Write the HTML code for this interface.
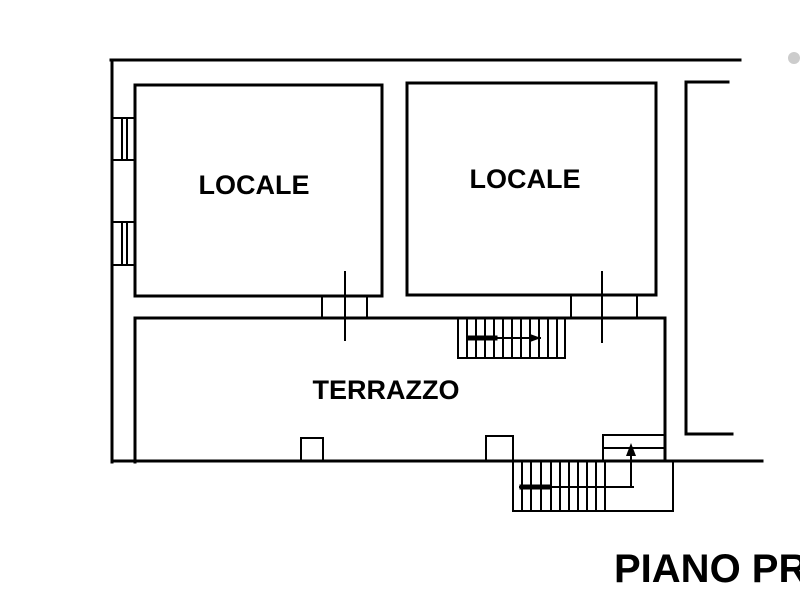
<!DOCTYPE html>
<html><head><style>html,body{margin:0;padding:0;background:#fff}svg{display:block}</style></head>
<body>
<svg width="800" height="600" viewBox="0 0 800 600" xmlns="http://www.w3.org/2000/svg">
<rect width="800" height="600" fill="#fff"/>
<g stroke="#000" stroke-width="3" fill="none" stroke-linecap="square">
<line x1="111" y1="60" x2="740" y2="60"/>
<line x1="112" y1="60" x2="112" y2="462"/>
<line x1="112" y1="461" x2="762" y2="461"/>
<rect x="135" y="85" width="247" height="211"/>
<rect x="407" y="83" width="249" height="212"/>
<polyline points="135,462 135,318 665,318 665,460"/>
<polyline points="728,82 686,82 686,434 732,434"/>
<rect x="112" y="118" width="23" height="42" stroke-width="2"/>
<line x1="122" y1="120" x2="122" y2="158" stroke-width="2"/>
<line x1="127" y1="120" x2="127" y2="158" stroke-width="2"/>
<rect x="112" y="222" width="23" height="43" stroke-width="2"/>
<line x1="122" y1="224" x2="122" y2="263" stroke-width="2"/>
<line x1="127" y1="224" x2="127" y2="263" stroke-width="2"/>
<line x1="322" y1="296" x2="322" y2="318" stroke-width="2"/>
<line x1="367" y1="296" x2="367" y2="318" stroke-width="2"/>
<line x1="345" y1="272" x2="345" y2="340" stroke-width="2"/>
<line x1="571" y1="295" x2="571" y2="318" stroke-width="2"/>
<line x1="637" y1="295" x2="637" y2="318" stroke-width="2"/>
<line x1="602" y1="272" x2="602" y2="342" stroke-width="2"/>
<polyline points="301,461 301,438 323,438 323,461" stroke-width="2"/>
<polyline points="486,461 486,436 513,436 513,461" stroke-width="2"/>
<rect x="458" y="318" width="107" height="40" stroke-width="2"/>
<g stroke-width="2">
<line x1="467" y1="318" x2="467" y2="358"/><line x1="476" y1="318" x2="476" y2="358"/>
<line x1="485" y1="318" x2="485" y2="358"/><line x1="494" y1="318" x2="494" y2="358"/>
<line x1="503" y1="318" x2="503" y2="358"/><line x1="512" y1="318" x2="512" y2="358"/>
<line x1="521" y1="318" x2="521" y2="358"/><line x1="530" y1="318" x2="530" y2="358"/>
<line x1="539" y1="318" x2="539" y2="358"/><line x1="548" y1="318" x2="548" y2="358"/>
<line x1="557" y1="318" x2="557" y2="358"/>
<line x1="467" y1="338" x2="540" y2="338"/>
</g>
<line x1="470" y1="338" x2="495" y2="338" stroke-width="5"/>
<rect x="513" y="461" width="160" height="50" stroke-width="2"/>
<g stroke-width="2">
<line x1="522" y1="461" x2="522" y2="511"/><line x1="531" y1="461" x2="531" y2="511"/>
<line x1="541" y1="461" x2="541" y2="511"/><line x1="551" y1="461" x2="551" y2="511"/>
<line x1="560" y1="461" x2="560" y2="511"/><line x1="569" y1="461" x2="569" y2="511"/>
<line x1="578" y1="461" x2="578" y2="511"/><line x1="587" y1="461" x2="587" y2="511"/>
<line x1="596" y1="461" x2="596" y2="511"/><line x1="605" y1="461" x2="605" y2="511"/>
<line x1="520" y1="487" x2="633" y2="487"/>
<line x1="631" y1="448" x2="631" y2="487"/>
<rect x="603" y="435" width="62" height="26"/>
<line x1="603" y1="448" x2="665" y2="448"/>
</g>
<line x1="522" y1="487" x2="548" y2="487" stroke-width="5"/>
</g>
<polygon points="626,456 631,443 636,456" fill="#000"/>
<polygon points="530,334 541,338 530,342" fill="#000"/>
<g font-family="Liberation Sans, sans-serif" font-weight="bold" fill="#000">
<text x="254" y="194" font-size="27" text-anchor="middle">LOCALE</text>
<text x="525" y="188" font-size="27" text-anchor="middle">LOCALE</text>
<text x="386" y="399" font-size="27" text-anchor="middle">TERRAZZO</text>
<text x="614" y="582" font-size="40">PIANO PR</text>
</g>
<circle cx="794" cy="58" r="6" fill="#ccc"/>
</svg>
</body></html>
